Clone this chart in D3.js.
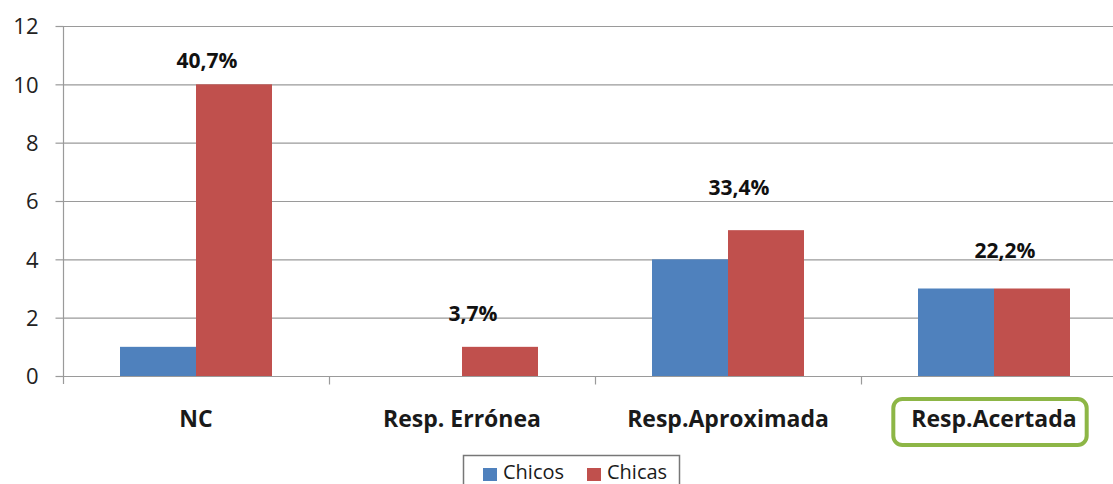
<!DOCTYPE html>
<html>
<head>
<meta charset="utf-8">
<script src="https://cdn.jsdelivr.net/npm/d3@7"></script>
<style>
  html, body { margin: 0; padding: 0; background: #fff; }
  svg { display: block; }
</style>
</head>
<body>
<svg id="chart" width="1113" height="484"></svg>
<script>
// ---- data ----
const categories = ["NC", "Resp. Errónea", "Resp.Aproximada", "Resp.Acertada"];
const seriesNames = ["Chicos", "Chicas"];
const chicos = [1, 0, 4, 3];
const chicas = [10, 1, 5, 3];
const percentLabels = ["40,7%", "3,7%", "33,4%", "22,2%"];
const percentLabelLevel = [10.56, 1.89, 6.2, 4.05]; // label baseline, in axis units
const yTicks = [0, 2, 4, 6, 8, 10, 12];
const highlighted = "Resp.Acertada";

(function () {
// ---- layout ----
const W = 1113, H = 484;
const mLeft = 63, mRight = 1127, mTop = 26, mBottom = 376;
const colors = { Chicos: "#4F81BD", Chicas: "#C0504D" };
const gridColor = "#9a9a9a";
const font = "'Open Sans', sans-serif";

const svg = d3.select("#chart");
svg.append("rect").attr("width", W).attr("height", H).attr("fill", "#fff");

const x = d3.scaleBand().domain(categories).range([mLeft, mRight]).padding(0);
const xs = d3.scaleBand().domain(seriesNames).range([0, x.bandwidth()])
  .paddingInner(0).paddingOuter(0.75);
const y = d3.scaleLinear().domain([0, 12]).range([mBottom, mTop]);

// gridlines
svg.append("g").selectAll("line").data(yTicks).join("line")
  .attr("x1", mLeft).attr("x2", W)
  .attr("y1", d => y(d) + 0.5).attr("y2", d => y(d) + 0.5)
  .attr("stroke", gridColor).attr("stroke-width", 1.2);

// bars
const rows = categories.map((c, i) => ({ cat: c, values: [
  { s: "Chicos", v: chicos[i] }, { s: "Chicas", v: chicas[i] }] }));
const groups = svg.append("g").selectAll("g").data(rows).join("g")
  .attr("transform", d => `translate(${x(d.cat)},0)`);
groups.selectAll("rect").data(d => d.values.filter(e => e.v > 0)).join("rect")
  .attr("x", d => xs(d.s))
  .attr("width", xs.bandwidth())
  .attr("y", d => y(d.v))
  .attr("height", d => y(0) - y(d.v))
  .attr("fill", d => colors[d.s]);

// y axis
const yAxis = svg.append("g").attr("transform", `translate(${mLeft + 0.5},0)`)
  .call(d3.axisLeft(y).tickValues(yTicks).tickSize(8).tickPadding(17).tickFormat(d3.format("d")));
yAxis.select(".domain").attr("stroke", gridColor).attr("stroke-width", 1.2)
  .attr("d", `M0,${mTop}V${mBottom + 8}`);
yAxis.selectAll(".tick line").attr("stroke", gridColor).attr("stroke-width", 1.2);
yAxis.selectAll(".tick text")
  .attr("font-family", font).attr("font-size", 22)
  .attr("fill", "#222").attr("dy", "0.36em");

// x axis
const xAxis = svg.append("g").attr("transform", `translate(0,${mBottom + 0.5})`);
xAxis.append("line").attr("x1", mLeft).attr("x2", W).attr("stroke", gridColor).attr("stroke-width", 1.2);
xAxis.selectAll("line.tk").data(categories.slice(1)).join("line").attr("class", "tk")
  .attr("x1", d => Math.round(x(d)) + 0.5).attr("x2", d => Math.round(x(d)) + 0.5)
  .attr("y1", 0).attr("y2", 8).attr("stroke", gridColor).attr("stroke-width", 1.2);

const catLabels = svg.append("g").selectAll("text").data(categories).join("text")
  .attr("x", d => x(d) + x.bandwidth() / 2)
  .attr("y", 427)
  .attr("text-anchor", "middle")
  .attr("font-family", font)
  .attr("font-weight", "bold").attr("font-size", 23)
  .attr("fill", "#1a1a1a")
  .text(d => d);

// highlight box around the selected category label
catLabels.filter(d => d === highlighted).each(function () {
  const b = this.getBBox();
  svg.append("rect")
    .attr("x", b.x - 18).attr("y", b.y - 3)
    .attr("width", b.width + 28).attr("height", b.height + 14)
    .attr("rx", 9).attr("ry", 9)
    .attr("fill", "none").attr("stroke", "#8DB646").attr("stroke-width", 4);
});

// percentage labels
svg.append("g").selectAll("text").data(categories).join("text")
  .attr("x", d => x(d) + x.bandwidth() / 2 + 11)
  .attr("y", (d, i) => y(percentLabelLevel[i]))
  .attr("text-anchor", "middle")
  .attr("font-family", font)
  .attr("font-weight", "bold").attr("font-size", 21)
  .attr("fill", "#111")
  .text((d, i) => percentLabels[i]);

// legend
const lg = svg.append("g").attr("transform", "translate(463,455)");
lg.append("rect").attr("x", 0.5).attr("y", 0.5).attr("width", 216).attr("height", 50)
  .attr("fill", "#fff").attr("stroke", "#777").attr("stroke-width", 1.5);
const li = lg.selectAll("g").data(seriesNames).join("g")
  .attr("transform", (d, i) => `translate(${20 + i * 104},0)`);
li.append("rect").attr("x", 0).attr("y", 13).attr("width", 14).attr("height", 13)
  .attr("fill", d => colors[d]);
li.append("text").attr("x", 20).attr("y", 24)
  .attr("font-family", font).attr("font-size", 20)
  .attr("fill", "#1a1a1a").text(d => d);
})();
</script>
</body>
</html>
